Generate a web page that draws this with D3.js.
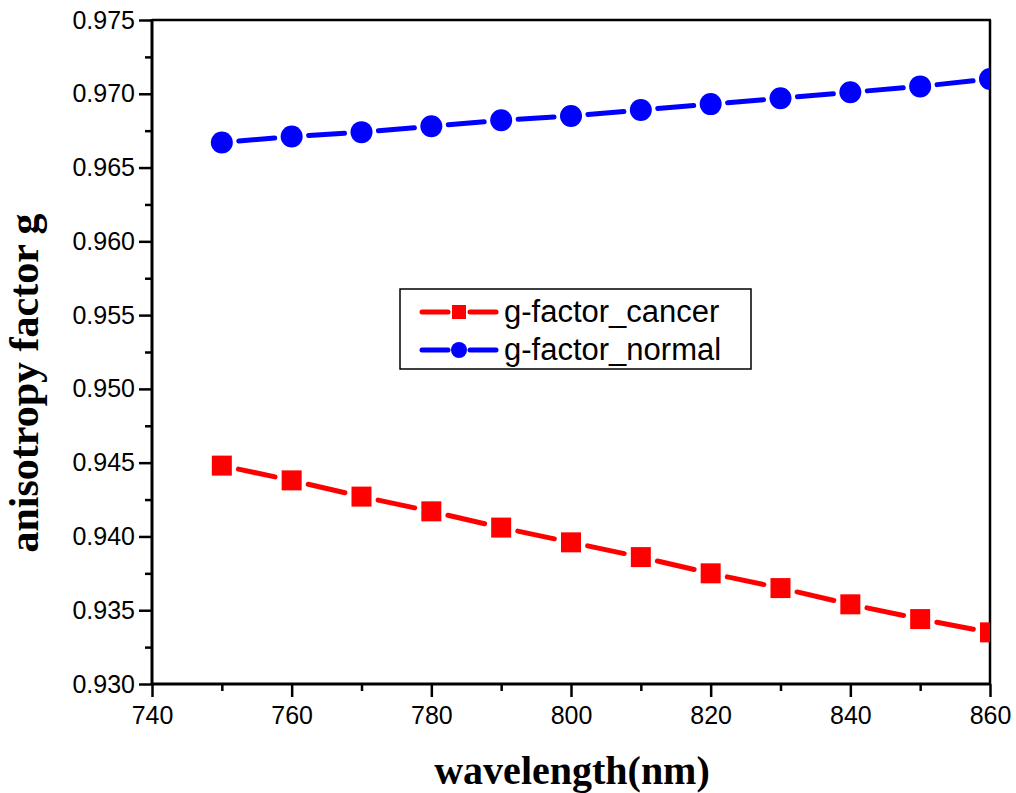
<!DOCTYPE html>
<html>
<head>
<meta charset="utf-8">
<script src="https://cdn.jsdelivr.net/npm/d3@7"></script>
<style>
  body { margin: 0; background: #fff; }
  svg { display: block; }
</style>
</head>
<body>
<script>
// values
var wavelengths = [750, 760, 770, 780, 790, 800, 810, 820, 830, 840, 850, 860];
var gCancer = [0.9448, 0.9438, 0.9427, 0.9417, 0.9406, 0.9396, 0.9386, 0.9375, 0.9365, 0.9354, 0.9344, 0.9335];
var gNormal = [0.9667, 0.9671, 0.9674, 0.9678, 0.9682, 0.9685, 0.9689, 0.9693, 0.9697, 0.9701, 0.9705, 0.9710];
var xTicks = [740, 760, 780, 800, 820, 840, 860];
var yTicks = [0.930, 0.935, 0.940, 0.945, 0.950, 0.955, 0.960, 0.965, 0.970, 0.975];
var seriesNames = ["g-factor_cancer", "g-factor_normal"];

var width = 1016, height = 793;
var pLeft = 152, pRight = 990, pTop = 20, pBottom = 684;

var svg = d3.select("body").append("svg")
    .attr("width", width)
    .attr("height", height);

var x = d3.scaleLinear().domain([740, 860]).range([pLeft, pRight]);
var y = d3.scaleLinear().domain([0.930, 0.975]).range([pBottom, pTop]);

svg.append("defs").append("clipPath").attr("id", "plotclip")
    .append("rect")
    .attr("x", pLeft).attr("y", pTop)
    .attr("width", pRight - pLeft).attr("height", pBottom - pTop);

// frame top + right
svg.append("line").attr("x1", pLeft).attr("x2", pRight + 1).attr("y1", pTop).attr("y2", pTop)
    .attr("stroke", "#000").attr("stroke-width", 2.5);
svg.append("line").attr("x1", pRight).attr("x2", pRight).attr("y1", pTop).attr("y2", pBottom)
    .attr("stroke", "#000").attr("stroke-width", 2.5);

// x axis, major + minor ticks
var xAxis = svg.append("g")
    .attr("transform", "translate(0," + pBottom + ")")
    .call(d3.axisBottom(x).tickValues(xTicks).tickSize(13).tickPadding(9).tickFormat(d3.format("d")));
var xMinor = svg.append("g")
    .attr("transform", "translate(0," + pBottom + ")")
    .call(d3.axisBottom(x).tickValues(d3.range(750, 860, 20)).tickSize(7).tickFormat(""));

// y axis, major + minor ticks
var yAxis = svg.append("g")
    .attr("transform", "translate(" + pLeft + ",0)")
    .call(d3.axisLeft(y).tickValues(yTicks).tickSize(13).tickPadding(4).tickFormat(d3.format(".3f")));
var yMinor = svg.append("g")
    .attr("transform", "translate(" + pLeft + ",0)")
    .call(d3.axisLeft(y).tickValues(d3.range(0.9325, 0.975, 0.005)).tickSize(7).tickFormat(""));

svg.selectAll(".domain").remove();
svg.append("line").attr("x1", pLeft).attr("x2", pRight).attr("y1", pBottom).attr("y2", pBottom)
    .attr("stroke", "#000").attr("stroke-width", 3);
svg.append("line").attr("x1", pLeft).attr("x2", pLeft).attr("y1", pTop - 1).attr("y2", pBottom)
    .attr("stroke", "#000").attr("stroke-width", 3);

svg.selectAll(".tick line").attr("stroke-width", 2.5);
svg.selectAll(".tick text")
    .style("font-family", "Arial, 'Liberation Sans', sans-serif")
    .style("font-size", "25px")
    .attr("fill", "#000");

// series
var plot = svg.append("g").attr("clip-path", "url(#plotclip)");

function drawSeries(values, color, shape) {
    var pts = wavelengths.map(function(w, i) { return [x(w), y(values[i])]; });
    var gap = 17;
    var segs = [];
    for (var i = 0; i < pts.length - 1; i++) {
        var p = pts[i], q = pts[i + 1];
        var dx = q[0] - p[0], dy = q[1] - p[1];
        var len = Math.sqrt(dx * dx + dy * dy);
        var ux = dx / len, uy = dy / len;
        segs.push([p[0] + ux * gap, p[1] + uy * gap, q[0] - ux * gap, q[1] - uy * gap]);
    }
    plot.selectAll(null).data(segs).enter().append("line")
        .attr("x1", function(d) { return d[0]; })
        .attr("y1", function(d) { return d[1]; })
        .attr("x2", function(d) { return d[2]; })
        .attr("y2", function(d) { return d[3]; })
        .attr("stroke", color)
        .attr("stroke-width", 5)
        .attr("stroke-linecap", "round");

    if (shape === "square") {
        plot.selectAll(null).data(pts).enter().append("rect")
            .attr("x", function(d) { return d[0] - 10; })
            .attr("y", function(d) { return d[1] - 10; })
            .attr("width", 20).attr("height", 20)
            .attr("fill", color);
    } else {
        plot.selectAll(null).data(pts).enter().append("circle")
            .attr("cx", function(d) { return d[0]; })
            .attr("cy", function(d) { return d[1]; })
            .attr("r", 11)
            .attr("fill", color);
    }
}

drawSeries(gCancer, "#ff0000", "square");
drawSeries(gNormal, "#0000ff", "circle");

// legend
var legend = svg.append("g");
legend.append("rect")
    .attr("x", 400).attr("y", 289)
    .attr("width", 351).attr("height", 80)
    .attr("fill", "#fff").attr("stroke", "#000").attr("stroke-width", 1.5);

var legendRows = [
    { name: seriesNames[0], color: "#ff0000", shape: "square", y: 312 },
    { name: seriesNames[1], color: "#0000ff", shape: "circle", y: 350 }
];
legendRows.forEach(function(r) {
    legend.append("line").attr("x1", 422).attr("x2", 448).attr("y1", r.y).attr("y2", r.y)
        .attr("stroke", r.color).attr("stroke-width", 5).attr("stroke-linecap", "round");
    legend.append("line").attr("x1", 470).attr("x2", 496).attr("y1", r.y).attr("y2", r.y)
        .attr("stroke", r.color).attr("stroke-width", 5).attr("stroke-linecap", "round");
    if (r.shape === "square") {
        legend.append("rect").attr("x", 452).attr("y", r.y - 7).attr("width", 14).attr("height", 14)
            .attr("fill", r.color);
    } else {
        legend.append("circle").attr("cx", 459).attr("cy", r.y).attr("r", 8).attr("fill", r.color);
    }
    legend.append("text")
        .attr("x", 504).attr("y", r.y + 10)
        .style("font-family", "Arial, 'Liberation Sans', sans-serif")
        .style("font-size", "31px")
        .text(r.name);
});

// axis titles
svg.append("text")
    .attr("x", (pLeft + pRight) / 2 + 1).attr("y", 784)
    .attr("text-anchor", "middle")
    .style("font-family", "'Times New Roman', 'Liberation Serif', serif")
    .style("font-weight", "bold")
    .style("font-size", "40px")
    .text("wavelength(nm)");

svg.append("text")
    .attr("transform", "translate(38,383) rotate(-90)")
    .attr("text-anchor", "middle")
    .style("font-family", "'Times New Roman', 'Liberation Serif', serif")
    .style("font-weight", "bold")
    .style("font-size", "42px")
    .text("anisotropy factor g");
</script>
</body>
</html>
